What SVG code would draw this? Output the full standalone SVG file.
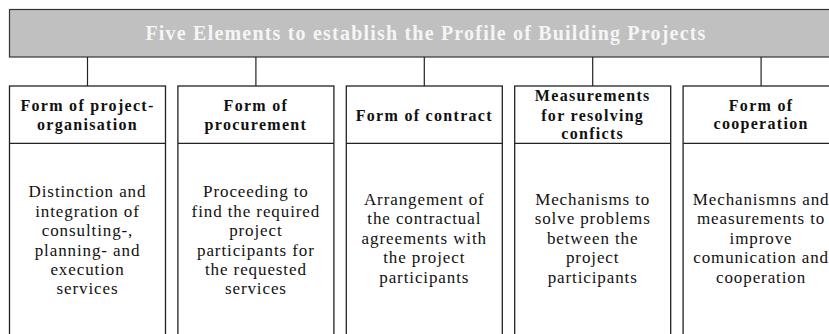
<svg xmlns="http://www.w3.org/2000/svg" width="829" height="334" viewBox="0 0 829 334">
<style>
.bar{fill:#c0c0c0;stroke:#333;stroke-width:1.2}
.box{fill:#fff;stroke:#222;stroke-width:1.3}
.sep{stroke:#222;stroke-width:1.3}
.con{stroke:#222;stroke-width:1.2;fill:none}
.title{font-family:"Liberation Serif",serif;font-weight:bold;font-size:20px;fill:#f5f5f5;text-anchor:middle;letter-spacing:1.2px}
.h{font-family:"Liberation Serif",serif;font-weight:bold;font-size:16px;fill:#111;text-anchor:middle;letter-spacing:1.3px}
.b{font-family:"Liberation Serif",serif;font-size:17px;fill:#111;text-anchor:middle;letter-spacing:0.9px}
</style>
<rect width="829" height="334" fill="#fff"/>
<g id="title">
<rect class="bar" x="9.5" y="9.5" width="830" height="47.5"/>
<text class="title" x="426" y="40">Five Elements to establish the Profile of Building Projects</text>
</g>
<g id="connectors">
<line class="con" x1="87.5" y1="57" x2="87.5" y2="86"/>
<line class="con" x1="255.9" y1="57" x2="255.9" y2="86"/>
<line class="con" x1="424.3" y1="57" x2="424.3" y2="86"/>
<line class="con" x1="592.7" y1="57" x2="592.7" y2="86"/>
<line class="con" x1="761.1" y1="57" x2="761.1" y2="86"/>
</g>
<g id="n1">
<rect class="box" x="9.5" y="86" width="156" height="260"/>
<line class="sep" x1="9.5" y1="143.3" x2="165.5" y2="143.3"/>
<text class="h" x="87.5" y="111">Form of project-</text>
<text class="h" x="87.5" y="129.5">organisation</text>
<text class="b" x="87.5" y="197.3">Distinction and</text>
<text class="b" x="87.5" y="216.7">integration of</text>
<text class="b" x="87.5" y="236.2">consulting-,</text>
<text class="b" x="87.5" y="255.6">planning- and</text>
<text class="b" x="87.5" y="275">execution</text>
<text class="b" x="87.5" y="294.4">services</text>
</g>
<g id="n2">
<rect class="box" x="177.9" y="86" width="156" height="260"/>
<line class="sep" x1="177.9" y1="143.3" x2="333.9" y2="143.3"/>
<text class="h" x="255.9" y="111">Form of</text>
<text class="h" x="255.9" y="129.5">procurement</text>
<text class="b" x="255.9" y="197.3">Proceeding to</text>
<text class="b" x="255.9" y="216.7">find the required</text>
<text class="b" x="255.9" y="236.2">project</text>
<text class="b" x="255.9" y="255.6">participants for</text>
<text class="b" x="255.9" y="275">the requested</text>
<text class="b" x="255.9" y="294.4">services</text>
</g>
<g id="n3">
<rect class="box" x="346.3" y="86" width="156" height="260"/>
<line class="sep" x1="346.3" y1="143.3" x2="502.3" y2="143.3"/>
<text class="h" x="424.3" y="120.7">Form of contract</text>
<text class="b" x="424.3" y="205">Arrangement of</text>
<text class="b" x="424.3" y="224.4">the contractual</text>
<text class="b" x="424.3" y="243.8">agreements with</text>
<text class="b" x="424.3" y="263.2">the project</text>
<text class="b" x="424.3" y="282.6">participants</text>
</g>
<g id="n4">
<rect class="box" x="514.7" y="86" width="156" height="260"/>
<line class="sep" x1="514.7" y1="143.3" x2="670.7" y2="143.3"/>
<text class="h" x="592.7" y="100.7">Measurements</text>
<text class="h" x="592.7" y="120.5">for resolving</text>
<text class="h" x="592.7" y="139.3">conficts</text>
<text class="b" x="592.7" y="205">Mechanisms to</text>
<text class="b" x="592.7" y="224.4">solve problems</text>
<text class="b" x="592.7" y="243.8">between the</text>
<text class="b" x="592.7" y="263.2">project</text>
<text class="b" x="592.7" y="282.6">participants</text>
</g>
<g id="n5">
<rect class="box" x="683.1" y="86" width="156" height="260"/>
<line class="sep" x1="683.1" y1="143.3" x2="839.1" y2="143.3"/>
<text class="h" x="761.1" y="110.7">Form of</text>
<text class="h" x="761.1" y="129.3">cooperation</text>
<text class="b" x="761.1" y="205">Mechanismns and</text>
<text class="b" x="761.1" y="224.4">measurements to</text>
<text class="b" x="761.1" y="243.8">improve</text>
<text class="b" x="761.1" y="263.2">comunication and</text>
<text class="b" x="761.1" y="282.6">cooperation</text>
</g>
</svg>
